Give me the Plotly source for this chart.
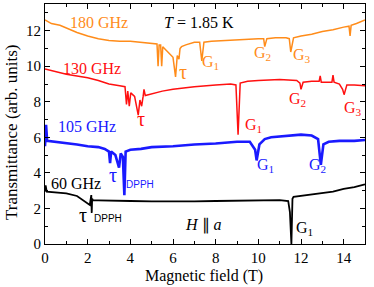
import plotly.graph_objects as go

# ---- data ----
x180 = [0, 0.3, 0.7, 1.0, 1.5, 2.0, 2.5, 3.0, 3.5, 4.0, 4.5, 5.0, 5.25, 5.3, 5.35, 5.42, 5.47, 5.52, 5.6, 5.8,
        6.0, 6.12, 6.2, 6.28, 6.33, 6.4, 6.6, 7.0, 7.25, 7.35, 7.45, 7.8, 8.5, 9.0, 9.5, 10.0, 10.25, 10.3, 10.4,
        10.8, 11.3, 11.45, 11.52, 11.65, 12.0, 12.5, 13.0, 13.5, 14.0, 14.25, 14.3, 14.35, 14.6, 15.0]
y180 = [12.6, 12.4, 12.3, 12.15, 11.9, 11.7, 11.55, 11.45, 11.4, 11.4, 11.35, 11.3, 11.25, 10.0, 11.2, 11.2, 10.0,
        11.1, 11.0, 10.8, 10.5, 9.4, 10.6, 10.4, 11.0, 11.1, 11.2, 11.35, 11.35, 10.3, 11.35, 11.4, 11.45, 11.5,
        11.55, 11.55, 11.55, 11.1, 11.55, 11.6, 11.6, 11.55, 10.8, 11.6, 11.7, 11.8, 11.95, 12.05, 12.2, 12.25,
        11.7, 12.3, 12.4, 12.6]

x130 = [0, 0.5, 1.0, 1.5, 2.0, 2.5, 3.0, 3.5, 3.75, 3.82, 3.88, 3.95, 4.02, 4.2, 4.37, 4.45, 4.53, 4.6, 4.64, 4.7,
        5.0, 5.5, 6.0, 7.0, 8.0, 8.7, 8.95, 9.05, 9.15, 9.5, 10.0, 11.0, 11.8, 11.95, 12.0, 12.1, 12.5, 12.85,
        12.9, 12.95, 13.3, 13.45, 13.5, 13.55, 13.8, 13.95, 14.02, 14.15, 14.5, 15.0]
y130 = [9.85, 9.7, 9.55, 9.45, 9.35, 9.2, 9.0, 8.9, 8.85, 7.85, 8.6, 7.75, 8.5, 8.3, 7.25, 8.1, 7.75, 8.3, 8.7, 8.35,
        8.45, 8.6, 8.7, 8.85, 8.95, 9.0, 8.95, 6.15, 9.05, 9.15, 9.2, 9.25, 9.2, 9.05, 8.7, 9.1, 9.15, 9.15,
        9.45, 9.1, 9.1, 9.1, 9.5, 9.1, 9.0, 8.7, 8.4, 8.95, 8.95, 8.9]

x105 = [0, 0.05, 0.1, 0.5, 1.0, 1.5, 2.0, 2.5, 2.8, 3.0, 3.05, 3.1, 3.3, 3.47, 3.55, 3.65, 3.72, 3.78, 4.0, 4.5,
        5.0, 6.0, 7.0, 8.0, 9.0, 9.6, 9.85, 9.92, 10.05, 10.3, 10.6, 11.0, 11.5, 12.0, 12.5, 12.8, 12.93, 13.05,
        13.3, 13.8, 14.5, 15.0]
y105 = [5.5, 6.7, 5.8, 5.75, 5.65, 5.6, 5.5, 5.45, 5.35, 5.2, 4.55, 5.2, 5.0, 4.3, 5.1, 4.9, 2.75, 5.2, 5.3, 5.35,
        5.45, 5.5, 5.6, 5.65, 5.75, 5.75, 5.3, 4.7, 5.6, 5.9, 6.0, 6.05, 6.1, 6.15, 6.1, 5.9, 4.45, 5.6, 5.75,
        5.8, 5.8, 5.85]

x60 = [0, 0.03, 0.08, 0.5, 1.0, 1.5, 1.8, 2.0, 2.1, 2.17, 2.19, 2.21, 2.25, 2.5, 3.0, 4.0, 5.0, 6.0, 7.0, 8.0,
       9.0, 10.0, 11.0, 11.4, 11.48, 11.55, 11.6, 11.65, 12.0, 12.5, 13.0, 13.5, 14.0, 14.5, 15.0]
y60 = [2.95, 3.3, 2.95, 2.9, 2.85, 2.7, 2.45, 2.3, 2.2, 2.75, 1.75, 2.55, 2.45, 2.45, 2.45, 2.42, 2.4, 2.38, 2.4,
       2.42, 2.45, 2.47, 2.47, 2.42, 1.8, 0.0, 2.55, 2.65, 2.7, 2.78, 2.85, 2.95, 3.1, 3.2, 3.35]

x_ticks = [0, 2, 4, 6, 8, 10, 12, 14]
y_ticks = [0, 2, 4, 6, 8, 10, 12]

ORANGE = "#ff8c1a"
RED = "#ff1010"
BLUE = "#1a1aff"
BLACK = "#000000"
SERIF = "Liberation Serif"

fig = go.Figure()
for xs, ys, c, w in [(x60, y60, BLACK, 1.8), (x105, y105, BLUE, 2.6), (x130, y130, RED, 1.5), (x180, y180, ORANGE, 1.5)]:
    fig.add_trace(go.Scatter(x=xs, y=ys, mode="lines", line=dict(color=c, width=w), showlegend=False))

ann = [
    (2.55, 12.45, "180 GHz", ORANGE, 16),
    (7.2, 12.45, "<i>T</i> = 1.85 K", BLACK, 16),
    (2.2, 9.9, "130 GHz", RED, 16),
    (1.95, 6.6, "105 GHz", BLUE, 16),
    (1.45, 3.42, "60 GHz", BLACK, 16),
    (6.45, 9.7, "τ", ORANGE, 20),
    (7.75, 10.2, "G<sub>1</sub>", ORANGE, 16),
    (10.2, 10.7, "G<sub>2</sub>", ORANGE, 16),
    (12.05, 10.6, "G<sub>3</sub>", ORANGE, 16),
    (4.5, 7.05, "τ", RED, 20),
    (9.75, 6.65, "G<sub>1</sub>", RED, 16),
    (11.85, 8.15, "G<sub>2</sub>", RED, 16),
    (14.45, 7.65, "G<sub>3</sub>", RED, 16),
    (3.2, 3.9, "τ", BLUE, 20),
    (10.35, 4.4, "G<sub>1</sub>", BLUE, 16),
    (12.75, 4.4, "G<sub>2</sub>", BLUE, 16),
    (1.8, 1.63, "τ", BLACK, 20),
    (12.15, 0.85, "G<sub>1</sub>", BLACK, 16),
    (7.45, 1.07, "<i>H</i> ∥ <i>a</i>", BLACK, 16),
]
for x, y, t, c, s in ann:
    fig.add_annotation(x=x, y=y, text=t, showarrow=False, font=dict(family=SERIF, size=s, color=c))
fig.add_annotation(x=4.45, y=3.35, text="DPPH", showarrow=False, font=dict(family="Liberation Sans", size=10, color=BLUE))
fig.add_annotation(x=2.95, y=1.45, text="DPPH", showarrow=False, font=dict(family="Liberation Sans", size=10, color=BLACK))

# axis titles
fig.add_annotation(xref="paper", yref="paper", x=(204 - 45) / 320, y=(244 - 276) / 240, text="Magnetic field (T)",
                   xanchor="center", yanchor="middle",
                   showarrow=False, font=dict(family=SERIF, size=16, color="black"))
fig.add_annotation(xref="paper", yref="paper", x=(11 - 45) / 320, y=(244 - 133) / 240, text="Transmittance (arb. units)",
                   xanchor="center", yanchor="middle",
                   textangle=-90, showarrow=False, font=dict(family=SERIF, size=17, color="black"))

axis_common = dict(showgrid=False, zeroline=False, showline=True, linecolor="black", linewidth=1, mirror="allticks",
                   ticks="inside", ticklen=5, tickcolor="black", automargin=False,
                   tickfont=dict(family=SERIF, size=15, color="black"))
fig.update_xaxes(range=[0, 15], tickvals=x_ticks, minor=dict(dtick=1, ticks="inside", ticklen=3, tickcolor="black"),
                 **axis_common)
fig.update_yaxes(range=[0, 13.5], tickvals=y_ticks, minor=dict(dtick=1, ticks="inside", ticklen=3, tickcolor="black"),
                 **axis_common)
fig.update_layout(width=374, height=287, margin=dict(l=45, r=9, t=4, b=43), plot_bgcolor="white", paper_bgcolor="white")
fig.write_html("out.html", post_script="document.body.style.margin='0';", config={"displayModeBar": False})
